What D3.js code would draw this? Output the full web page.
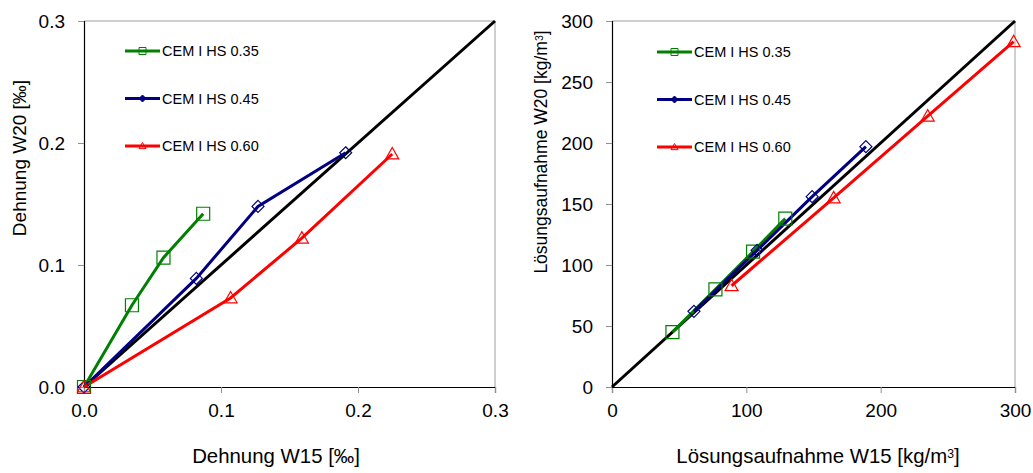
<!DOCTYPE html>
<html>
<head>
<meta charset="utf-8">
<script src="https://cdn.jsdelivr.net/npm/d3@7"></script>
<style>
  body { margin: 0; background: #fff; }
  svg { font-family: "Liberation Sans", Arial, sans-serif; }
</style>
</head>
<body>
<div id="chart"></div>
<script>
// series names
var seriesNames = ["CEM I HS 0.35", "CEM I HS 0.45", "CEM I HS 0.60"];
var seriesColors = ["#008000", "#000080", "#ff0000"];
var seriesSymbols = ["square", "diamond", "triangle"];

// left chart: Dehnung W15 vs W20 [‰]
var dehnX035 = [0, 0.035, 0.058, 0.087];
var dehnY035 = [0, 0.067, 0.106, 0.142];
var dehnX045 = [0, 0.082, 0.127, 0.191];
var dehnY045 = [0, 0.089, 0.148, 0.192];
var dehnX060 = [0, 0.107, 0.159, 0.225];
var dehnY060 = [0, 0.073, 0.122, 0.191];
var dehnTicks = [0, 0.1, 0.2, 0.3];

// right chart: Lösungsaufnahme W15 vs W20 [kg/m3]
var loesX035 = [45, 77, 105, 129];
var loesY035 = [45, 80, 111, 138];
var loesX045 = [61, 108, 149, 189];
var loesY045 = [62, 112, 156, 197];
var loesX060 = [89, 165, 235, 299];
var loesY060 = [83, 155, 222, 283];
var loesXTicks = [0, 100, 200, 300];
var loesYTicks = [0, 50, 100, 150, 200, 250, 300];

var svg = d3.select("#chart").append("svg")
    .attr("width", 1033)
    .attr("height", 473);

function zip(xs, ys) {
  return xs.map(function(d, i) { return [d, ys[i]]; });
}

function symbolPath(kind, size) {
  if (kind == "square") return d3.symbol().type(d3.symbolSquare).size(size * size)();
  if (kind == "diamond") {
    var h = size / 2;
    return "M0," + (-h) + "L" + h + ",0L0," + h + "L" + (-h) + ",0Z";
  }
  var s = size / 2;
  return "M0," + (-s) + "L" + s + "," + (s * 0.75) + "L" + (-s) + "," + (s * 0.75) + "Z";
}

function drawChart(cfg) {
  var x = d3.scaleLinear().domain(cfg.xDomain).range([cfg.left, cfg.right]);
  var y = d3.scaleLinear().domain(cfg.yDomain).range([cfg.bottom, cfg.top]);
  var g = svg.append("g");

  // gray top and right border
  g.append("path")
      .attr("d", "M" + cfg.left + "," + cfg.top + "H" + cfg.right + "V" + cfg.bottom)
      .attr("fill", "none")
      .attr("stroke", "#a0a0a0")
      .attr("stroke-width", 1);

  // x axis
  var xa = g.append("g")
      .attr("transform", "translate(0," + cfg.bottom + ")")
      .call(d3.axisBottom(x).tickValues(cfg.xTicks).tickSize(6).tickPadding(11).tickFormat(cfg.fmt));
  // y axis
  var ya = g.append("g")
      .attr("transform", "translate(" + cfg.left + ",0)")
      .call(d3.axisLeft(y).tickValues(cfg.yTicks).tickSize(6).tickPadding(13).tickFormat(cfg.fmt));
  [xa, ya].forEach(function(a) {
    a.select(".domain").attr("stroke", "#000").attr("stroke-width", 1.2);
    a.selectAll(".tick line").attr("stroke", "#909090");
    a.selectAll(".tick text").attr("font-size", 19).attr("fill", "#000")
      .attr("font-family", "Liberation Sans, Arial, sans-serif");
  });

  // 1:1 line
  g.append("path")
      .attr("d", d3.line()([[x(cfg.xDomain[0]), y(cfg.yDomain[0])], [x(cfg.xDomain[1]), y(cfg.yDomain[1])]]))
      .attr("stroke", "#000")
      .attr("stroke-width", 3)
      .attr("fill", "none");

  var line = d3.line().x(function(d) { return x(d[0]); }).y(function(d) { return y(d[1]); });

  cfg.series.forEach(function(s, i) {
    g.append("path")
        .datum(s)
        .attr("d", line)
        .attr("stroke", seriesColors[i])
        .attr("stroke-width", 3)
        .attr("fill", "none");
  });
  cfg.series.forEach(function(s, i) {
    var sz = seriesSymbols[i] == "diamond" ? 12 : 13;
    g.selectAll(".m" + i)
        .data(s)
      .enter().append("path")
        .attr("transform", function(d) { return "translate(" + x(d[0]) + "," + y(d[1]) + ")"; })
        .attr("d", symbolPath(seriesSymbols[i], sz))
        .attr("fill", "none")
        .attr("stroke", seriesColors[i])
        .attr("stroke-width", 1.2);
  });

  // legend
  seriesNames.forEach(function(name, i) {
    var ly = cfg.legendY + i * 47.5;
    g.append("line")
        .attr("x1", cfg.legendX).attr("x2", cfg.legendX + 35)
        .attr("y1", ly).attr("y2", ly)
        .attr("stroke", seriesColors[i])
        .attr("stroke-width", 3);
    g.append("path")
        .attr("transform", "translate(" + (cfg.legendX + 17.5) + "," + ly + ")")
        .attr("d", symbolPath(seriesSymbols[i], 7))
        .attr("fill", seriesSymbols[i] == "diamond" ? seriesColors[i] : "none")
        .attr("stroke", seriesColors[i])
        .attr("stroke-width", 1);
    g.append("text")
        .attr("x", cfg.legendX + 37)
        .attr("y", ly + 5)
        .attr("font-size", 14.5)
        .text(name);
  });

  // axis titles
  var xt = g.append("text")
      .attr("x", cfg.xTitleX)
      .attr("y", cfg.xTitleY)
      .attr("text-anchor", "middle")
      .attr("font-size", 20.4);
  cfg.xTitle(xt);
  var yt = g.append("text")
      .attr("transform", "translate(" + cfg.yTitleX + "," + cfg.yTitleY + ") rotate(-90)")
      .attr("text-anchor", "middle")
      .attr("font-size", cfg.yTitleSize);
  cfg.yTitle(yt);
}

function unitTitle(prefix) {
  return function(t) {
    t.append("tspan").text(prefix + " [kg/m");
    t.append("tspan").attr("font-size", "0.6em").attr("dy", "-0.4em").text("3");
    t.append("tspan").attr("dy", "0.24em").text("]");
  };
}

drawChart({
  left: 84, right: 495, top: 21, bottom: 387,
  xDomain: [0, 0.3], yDomain: [0, 0.3],
  xTicks: dehnTicks, yTicks: dehnTicks,
  fmt: d3.format(".1f"),
  series: [zip(dehnX035, dehnY035), zip(dehnX045, dehnY045), zip(dehnX060, dehnY060)],
  legendX: 125, legendY: 51,
  xTitleX: 276, xTitleY: 463,
  yTitleX: 26, yTitleY: 158, yTitleSize: 19,
  xTitle: function(t) { t.text("Dehnung W15 [‰]"); },
  yTitle: function(t) { t.text("Dehnung W20 [‰]"); }
});

drawChart({
  left: 612, right: 1015, top: 21, bottom: 387,
  xDomain: [0, 300], yDomain: [0, 300],
  xTicks: loesXTicks, yTicks: loesYTicks,
  fmt: d3.format("d"),
  series: [zip(loesX035, loesY035), zip(loesX045, loesY045), zip(loesX060, loesY060)],
  legendX: 657, legendY: 52,
  xTitleX: 818, xTitleY: 463,
  yTitleX: 547, yTitleY: 152, yTitleSize: 17.5,
  xTitle: unitTitle("Lösungsaufnahme W15"),
  yTitle: unitTitle("Lösungsaufnahme W20")
});
</script>
</body>
</html>
